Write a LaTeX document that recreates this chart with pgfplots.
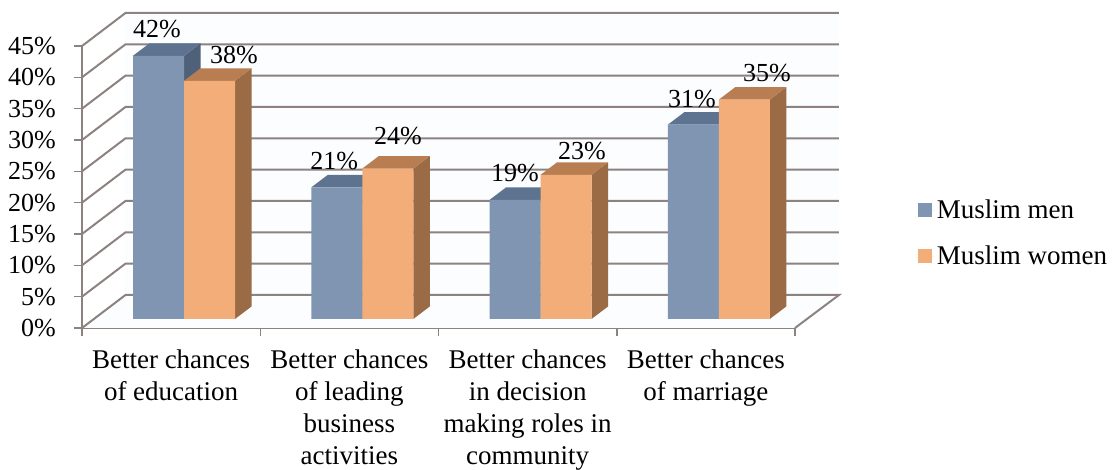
\documentclass[border=0pt]{standalone}
\usepackage{pgfplots}
\usepackage{fontspec}
\setmainfont{Liberation Serif}
\pgfplotsset{compat=1.18}
\definecolor{gridc}{HTML}{8C8280}
\definecolor{wallc}{HTML}{FBFDFE}
\definecolor{blueF}{HTML}{7F95B2}
\definecolor{blueT}{HTML}{5E7390}
\definecolor{blueS}{HTML}{4F6179}
\definecolor{orF}{HTML}{F2AD79}
\definecolor{orT}{HTML}{B87E52}
\definecolor{orS}{HTML}{9A6B45}
\begin{document}
\begin{tikzpicture}
\useasboundingbox (0pt,0pt) rectangle (1118pt,470pt);
\begin{axis}[
  at={(82pt,142pt)}, anchor=south west,
  scale only axis, width=713pt, height=282pt,
  xmin=0, xmax=4, ymin=0, ymax=45,
  clip=false,
  axis lines=left,
  axis line style={gridc, line width=2pt, -},
  tick style={gridc, line width=1.5pt},
  tick align=outside, major tick length=8pt,
  ytick={0,5,10,15,20,25,30,35,40,45},
  yticklabels={0\%,5\%,10\%,15\%,20\%,25\%,30\%,35\%,40\%,45\%},
  yticklabel style={font=\fontsize{26}{30}\selectfont, inner sep=0pt, xshift=-18pt},
  xtick={0,1,2,3,4},
  xticklabels={},
  extra x ticks={0.5,1.5,2.5,3.5},
  extra x tick labels={{Better chances\\of education},{Better chances\\of leading\\business\\activities},{Better chances\\in decision\\making roles in\\community},{Better chances\\of marriage}},
  extra x tick style={tick style={draw=none}},
  xticklabel style={font=\fontsize{27}{32}\selectfont, align=center, inner sep=0pt, yshift=-14pt},
]
% walls
\addplot[fill=wallc, draw=none, forget plot] coordinates {(0,0) (0.244,5.27) (0.244,50.27) (4.2468,50.27) (4.2468,5.27) (4,0)} --cycle;
% grid lines
\addplot[gridc, line width=2pt, forget plot] coordinates {(4,0) (4.2468,5.27) (0.244,5.27) (0,0)};
\addplot[gridc, line width=2pt, forget plot] coordinates {(0,5) (0.244,10.27) (4.2468,10.27)};
\addplot[gridc, line width=2pt, forget plot] coordinates {(0,10) (0.244,15.27) (4.2468,15.27)};
\addplot[gridc, line width=2pt, forget plot] coordinates {(0,15) (0.244,20.27) (4.2468,20.27)};
\addplot[gridc, line width=2pt, forget plot] coordinates {(0,20) (0.244,25.27) (4.2468,25.27)};
\addplot[gridc, line width=2pt, forget plot] coordinates {(0,25) (0.244,30.27) (4.2468,30.27)};
\addplot[gridc, line width=2pt, forget plot] coordinates {(0,30) (0.244,35.27) (4.2468,35.27)};
\addplot[gridc, line width=2pt, forget plot] coordinates {(0,35) (0.244,40.27) (4.2468,40.27)};
\addplot[gridc, line width=2pt, forget plot] coordinates {(0,40) (0.244,45.27) (4.2468,45.27)};
\addplot[gridc, line width=2pt, forget plot] coordinates {(0,45) (0.244,50.27) (4.2468,50.27)};
\end{axis}
\begin{axis}[
  at={(94.9pt,151pt)}, anchor=south west,
  scale only axis, width=713pt, height=282pt,
  xmin=0, xmax=4, ymin=0, ymax=45,
  clip=false, hide axis,
  legend style={at={(1.154,0.43)}, anchor=north west, draw=none, fill=none, inner sep=0pt,
    row sep=22pt, font=\fontsize{27}{32}\selectfont, cells={anchor=west}},
]
% blue: sides and tops
\addplot[fill=blueS, draw=none, forget plot] coordinates {(0.5,42) (0.5926,44) (0.5926,2) (0.5,0)} --cycle;
\addplot[fill=blueS, draw=none, forget plot] coordinates {(1.5,21) (1.5926,23) (1.5926,2) (1.5,0)} --cycle;
\addplot[fill=blueS, draw=none, forget plot] coordinates {(2.5,19) (2.5926,21) (2.5926,2) (2.5,0)} --cycle;
\addplot[fill=blueS, draw=none, forget plot] coordinates {(3.5,31) (3.5926,33) (3.5926,2) (3.5,0)} --cycle;
\addplot[fill=blueT, draw=none, forget plot] coordinates {(0.2139,42) (0.3065,44) (0.5926,44) (0.5,42)} --cycle;
\addplot[fill=blueT, draw=none, forget plot] coordinates {(1.2139,21) (1.3065,23) (1.5926,23) (1.5,21)} --cycle;
\addplot[fill=blueT, draw=none, forget plot] coordinates {(2.2139,19) (2.3065,21) (2.5926,21) (2.5,19)} --cycle;
\addplot[fill=blueT, draw=none, forget plot] coordinates {(3.2139,31) (3.3065,33) (3.5926,33) (3.5,31)} --cycle;
% blue: front faces
\addplot[ybar, bar width=51pt, bar shift=-25.5pt, fill=blueF, draw=none,
  legend image code/.code={\fill[blueF] (0pt,-7pt) rectangle (14pt,7pt); \path (0pt,0pt) -- (17pt,0pt);}]
  coordinates {(0.5,42) (1.5,21) (2.5,19) (3.5,31)};
\addlegendentry{Muslim men}
% orange: sides and tops
\addplot[fill=orS, draw=none, forget plot] coordinates {(0.7861,38) (0.8787,40) (0.8787,2) (0.7861,0)} --cycle;
\addplot[fill=orS, draw=none, forget plot] coordinates {(1.7861,24) (1.8787,26) (1.8787,2) (1.7861,0)} --cycle;
\addplot[fill=orS, draw=none, forget plot] coordinates {(2.7861,23) (2.8787,25) (2.8787,2) (2.7861,0)} --cycle;
\addplot[fill=orS, draw=none, forget plot] coordinates {(3.7861,35) (3.8787,37) (3.8787,2) (3.7861,0)} --cycle;
\addplot[fill=orT, draw=none, forget plot] coordinates {(0.5,38) (0.5926,40) (0.8787,40) (0.7861,38)} --cycle;
\addplot[fill=orT, draw=none, forget plot] coordinates {(1.5,24) (1.5926,26) (1.8787,26) (1.7861,24)} --cycle;
\addplot[fill=orT, draw=none, forget plot] coordinates {(2.5,23) (2.5926,25) (2.8787,25) (2.7861,23)} --cycle;
\addplot[fill=orT, draw=none, forget plot] coordinates {(3.5,35) (3.5926,37) (3.8787,37) (3.7861,35)} --cycle;
% orange: front faces
\addplot[ybar, bar width=51pt, bar shift=25.5pt, fill=orF, draw=none,
  legend image code/.code={\fill[orF] (0pt,-7pt) rectangle (14pt,7pt); \path (0pt,0pt) -- (17pt,0pt);}]
  coordinates {(0.5,38) (1.5,24) (2.5,23) (3.5,35)};
\addlegendentry{Muslim women}
% data labels
\begin{scope}[every node/.style={font=\fontsize{26}{30}\selectfont, inner sep=0pt}]
\node at (axis cs:0.348,46.2) {42\%};
\node at (axis cs:0.780,42.1) {38\%};
\node at (axis cs:1.342,25.2) {21\%};
\node at (axis cs:1.700,29.2) {24\%};
\node at (axis cs:2.357,23.3) {19\%};
\node at (axis cs:2.733,26.8) {23\%};
\node at (axis cs:3.350,35.1) {31\%};
\node at (axis cs:3.770,39.2) {35\%};
\end{scope}
\end{axis}
\end{tikzpicture}
\end{document}
